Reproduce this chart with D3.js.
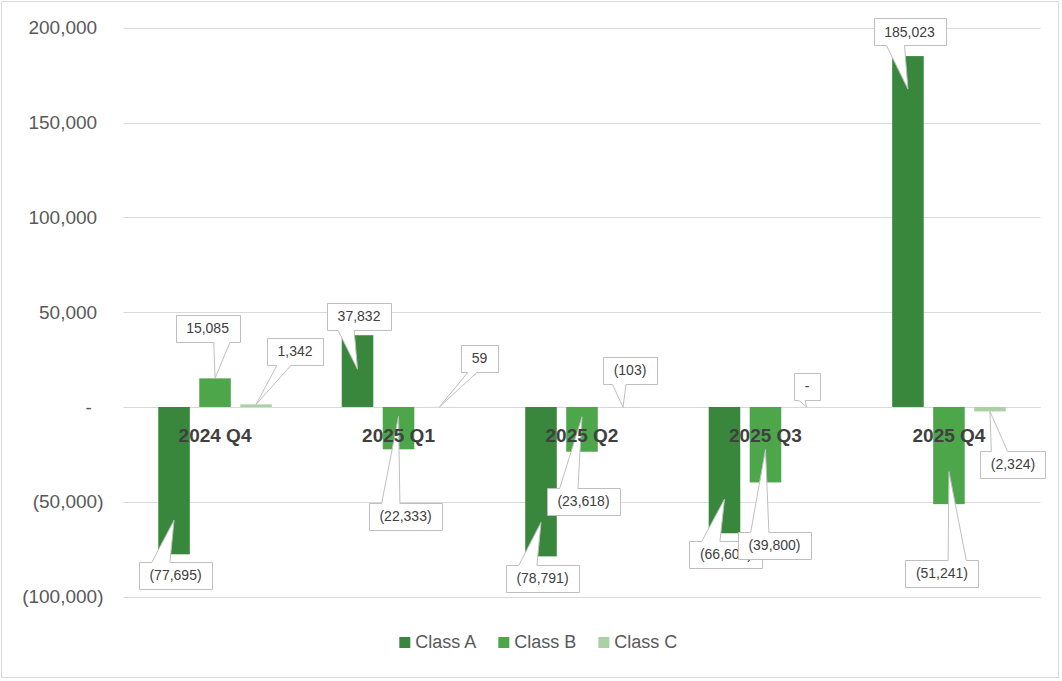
<!DOCTYPE html>
<html>
<head>
<meta charset="utf-8">
<script src="https://cdn.jsdelivr.net/npm/d3@7/dist/d3.min.js"></script>
<style>
  html, body { margin: 0; padding: 0; background: #fff; }
  svg { display: block; font-family: "Liberation Sans", Arial, sans-serif; }
</style>
</head>
<body>
<svg id="chart" width="1062" height="681"></svg>
<script>
// ---- data ----
const categories = ["2024 Q4", "2025 Q1", "2025 Q2", "2025 Q3", "2025 Q4"];
const seriesNames = ["Class A", "Class B", "Class C"];
const classA = [-77695, 37832, -78791, -66600, 185023];
const classB = [15085, -22333, -23618, -39800, -51241];
const classC = [1342, 59, -103, 0, -2324];
const yTicks = [-100000, -50000, 0, 50000, 100000, 150000, 200000];

// ---- styles / layout ----
const colors = ["#38873c", "#4ea64b", "#a8d2a3"];
// callout placement per series: [tip offset px from bar end, box dx, box dy]
const calloutLayoutA = [[-34, 1.5, 21], [34, 1.5, -19], [-34, 1.5, 22], [-34, 1.5, 20.5], [33, 1.5, -24.5]];
const calloutLayoutB = [[0, -7.5, -50], [-33, 7, 67], [-35, 1.5, 49.5], [-33, 9, 63], [-32.5, -7, 69]];
const calloutLayoutC = [[0, 39, -53], [0, 40, -48.5], [0, 7, -37], [0, 0.5, -20.7], [0, 23, 53]];

const seriesValues = [classA, classB, classC];
const calloutLayouts = [calloutLayoutA, calloutLayoutB, calloutLayoutC];

const svg = d3.select("#chart");

// outer border
svg.append("rect").attr("x", 1.5).attr("y", 1.5).attr("width", 1057).attr("height", 676)
  .attr("fill", "#fff").attr("stroke", "#d9d9d9").attr("stroke-width", 1);

const x = d3.scaleBand().domain(categories).range([123.3, 1040.7]).paddingInner(0).paddingOuter(0);
const y = d3.scaleLinear().domain([-100000, 200000]).range([596.6, 27.7]);

const fmt = v => {
  if (v === 0) return "-";
  const s = d3.format(",")(Math.abs(v));
  return v < 0 ? "(" + s + ")" : s;
};

// gridlines
svg.append("g").selectAll("line").data(yTicks).join("line")
  .attr("x1", x.range()[0]).attr("x2", x.range()[1])
  .attr("y1", d => Math.round(y(d)) + 0.5).attr("y2", d => Math.round(y(d)) + 0.5)
  .attr("stroke", "#d9d9d9").attr("stroke-width", 1);

// y tick labels (accounting style)
const yl = svg.append("g").selectAll("text").data(yTicks).join("text")
  .attr("x", 103.5).attr("y", d => y(d)).attr("dy", "0.35em")
  .attr("text-anchor", "end").attr("font-size", 19).attr("fill", "#595959");
yl.append("tspan").text(d => fmt(d));
yl.filter(d => d > 0).append("tspan").attr("fill-opacity", 0).text(")");
yl.filter(d => d === 0).append("tspan").attr("fill-opacity", 0).text(" )");

const bw = x.bandwidth();
const barW = bw * 0.172;
const step = bw * 0.2235;
const cx = (ci, si) => x(categories[ci]) + bw / 2 + (si - 1) * step;

// bars
seriesValues.forEach((vals, si) => {
  svg.append("g").selectAll("rect").data(vals).join("rect")
    .attr("x", (d, i) => cx(i, si) - barW / 2)
    .attr("y", d => y(Math.max(0, d)))
    .attr("width", barW)
    .attr("height", d => Math.abs(y(d) - y(0)))
    .attr("fill", colors[si]);
});

// callouts
function calloutPath(l, t, w, h, xp, yp) {
  const r = l + w, b = t + h, hc = l + w / 2, vc = t + h / 2;
  const dx = xp - hc, dy = yp - vc;
  const dq = dx * h / w, dz = Math.abs(dy) - Math.abs(dq);
  const xg1 = xp > hc ? 7 : 2, xg2 = xp > hc ? 10 : 5;
  const yg1 = yp > vc ? 7 : 2, yg2 = yp > vc ? 10 : 5;
  const x1 = l + w * xg1 / 12, x2 = l + w * xg2 / 12;
  const y1 = t + h * yg1 / 12, y2 = t + h * yg2 / 12;
  const inside = xp >= l && xp <= r && yp >= t && yp <= b;
  let p = `M${l},${t}`;
  if (!inside && dz > 0 && dy < 0) p += `L${x1},${t}L${xp},${yp}L${x2},${t}`;
  p += `L${r},${t}`;
  if (!inside && dz <= 0 && dx > 0) p += `L${r},${y1}L${xp},${yp}L${r},${y2}`;
  p += `L${r},${b}`;
  if (!inside && dz > 0 && dy > 0) p += `L${x2},${b}L${xp},${yp}L${x1},${b}`;
  p += `L${l},${b}`;
  if (!inside && dz <= 0 && dx < 0) p += `L${l},${y2}L${xp},${yp}L${l},${y1}`;
  return p + "Z";
}

const cg = svg.append("g");
seriesValues.forEach((vals, si) => {
  vals.forEach((v, i) => {
    const [tdy, bdx, bdy] = calloutLayouts[si][i];
    const bx = cx(i, si), by = y(v);
    const tipX = bx, tipY = by + tdy;
    const g = cg.append("g");
    const txt = g.append("text").attr("font-size", 14).attr("fill", "#404040")
      .attr("text-anchor", "middle").attr("dy", "0.35em")
      .attr("x", bx + bdx).attr("y", by + bdy).text(fmt(v));
    const tw = txt.node().getComputedTextLength();
    const w = tw + 21, h = 26.5;
    const l = bx + bdx - w / 2, t = by + bdy - h / 2;
    g.insert("path", "text")
      .attr("d", calloutPath(Math.round(l) + 0.5, Math.round(t) + 0.5, Math.round(w), Math.round(h), tipX, tipY))
      .attr("fill", "#fff").attr("stroke", "#bfbfbf").attr("stroke-width", 1);
  });
});

// category labels
svg.append("g").selectAll("text").data(categories).join("text")
  .attr("x", d => x(d) + bw / 2).attr("y", y(0) + 35)
  .attr("text-anchor", "middle").attr("font-size", 19).attr("font-weight", "bold")
  .attr("fill", "#404040").text(d => d);

// legend
const lg = svg.append("g");
let lx = 399.3;
seriesNames.forEach((name, si) => {
  lg.append("rect").attr("x", lx).attr("y", 637).attr("width", 11).attr("height", 11).attr("fill", colors[si]);
  const t = lg.append("text").attr("x", lx + 16).attr("y", 648.3).attr("font-size", 18)
    .attr("fill", "#595959").text(name);
  lx += 16 + t.node().getComputedTextLength() + 22;
});
</script>
</body>
</html>
